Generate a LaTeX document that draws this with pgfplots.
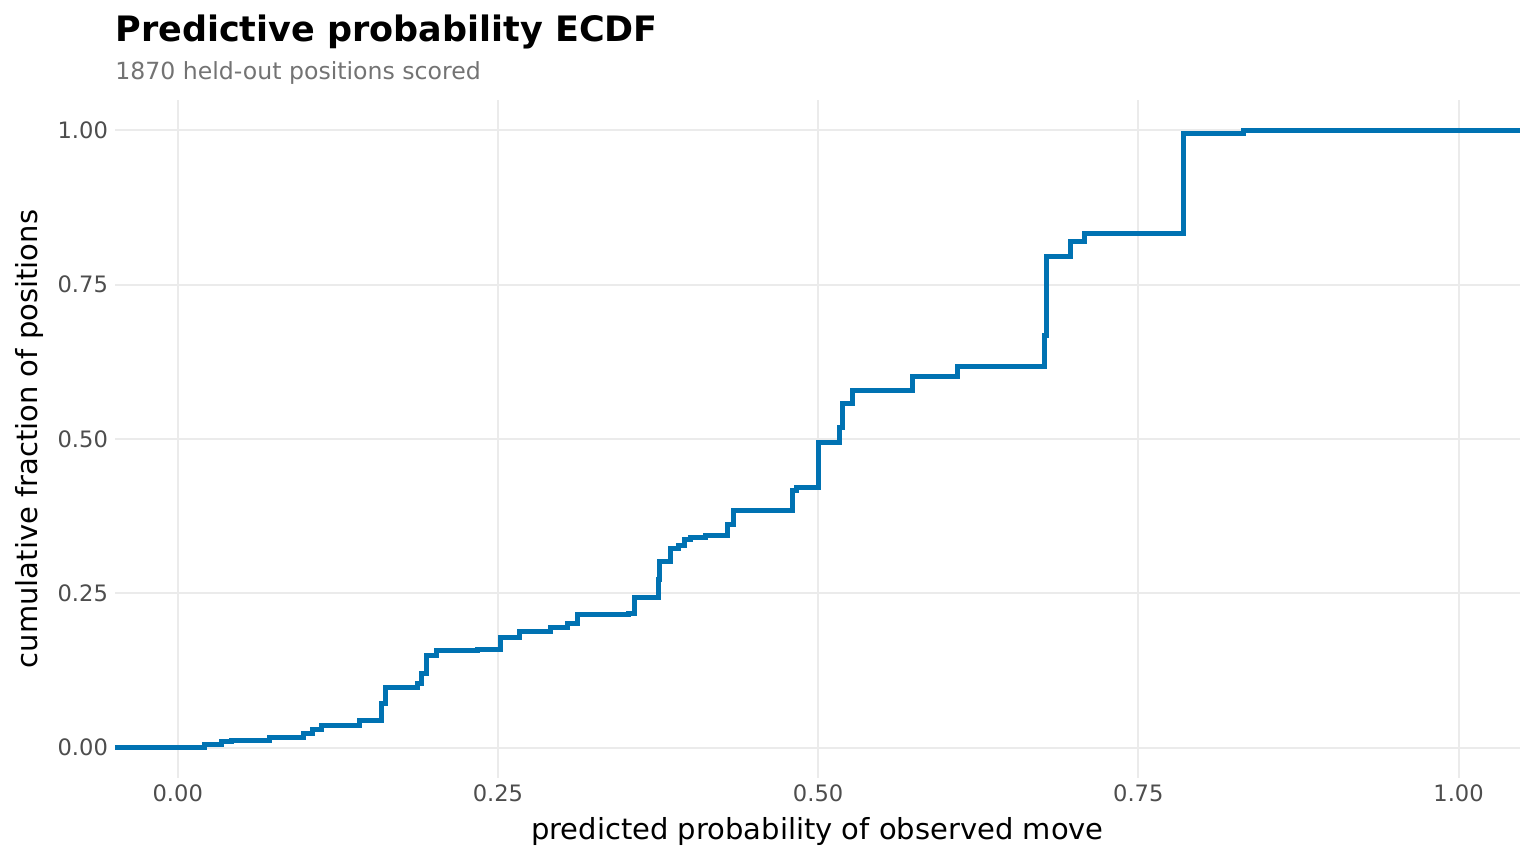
\documentclass[border=0pt]{standalone}
\usepackage{pgfplots}
\pgfplotsset{compat=1.18}
\usepackage{fontspec}
\setmainfont{DejaVu Sans}
\definecolor{line}{HTML}{0072B2}
\definecolor{gridc}{HTML}{EBEBEB}
\definecolor{tickc}{HTML}{4D4D4D}
\begin{document}
\begin{tikzpicture}
\path (0,0) rectangle (768pt,432pt);
\node[anchor=base west,inner sep=0pt] at (57.5pt,411pt) {\fontsize{17.5}{20}\selectfont\bfseries Predictive probability ECDF};
\node[anchor=base west,inner sep=0pt,text=gray!90!black] at (57.5pt,392pt) {\fontsize{11.8}{13}\selectfont 1870 held-out positions scored};
\begin{axis}[at={(57.5pt,43pt)},anchor=south west,scale only axis,
 width=702.5pt,height=339pt,
 xmin=-0.049,xmax=1.048,ymin=-0.049,ymax=1.049,
 axis line style={draw=none},tick style={draw=none},
 grid=major,major grid style={gridc,line width=1pt},
 xtick={0,0.25,0.5,0.75,1},ytick={0,0.25,0.5,0.75,1},
 xticklabel style={/pgf/number format/fixed,/pgf/number format/fixed zerofill,/pgf/number format/precision=2},
 yticklabel style={/pgf/number format/fixed,/pgf/number format/fixed zerofill,/pgf/number format/precision=2},
 /pgf/number format/assume math mode=true,
 ticklabel style={font=\fontsize{11.3}{13}\selectfont,text=tickc},
 xlabel={predicted probability of observed move},
 ylabel={cumulative fraction of positions},
 label style={font=\fontsize{14.5}{16}\selectfont},
 xlabel style={yshift=-1pt},ylabel style={yshift=0pt},
]
\addplot[const plot,line,line width=2.5pt] coordinates {
(-0.049,0) (0.021,0.005) (0.034,0.010) (0.042,0.011) (0.072,0.016) (0.098,0.023)
(0.105,0.029) (0.112,0.036) (0.142,0.044) (0.159,0.071) (0.162,0.097)
(0.1875,0.104) (0.190,0.121) (0.194,0.149) (0.202,0.157) (0.234,0.159)
(0.252,0.178) (0.267,0.188) (0.291,0.194) (0.304,0.202) (0.312,0.215)
(0.352,0.218) (0.357,0.243) (0.375,0.272) (0.376,0.301) (0.385,0.322)
(0.391,0.327) (0.396,0.337) (0.400,0.340) (0.412,0.343) (0.429,0.361)
(0.434,0.385) (0.480,0.417) (0.483,0.422) (0.500,0.495) (0.517,0.518)
(0.519,0.558) (0.527,0.578) (0.574,0.602) (0.609,0.617) (0.677,0.668)
(0.678,0.795) (0.697,0.820) (0.708,0.832) (0.785,0.994) (0.832,1.0) (1.048,1.0)
};
\end{axis}
\end{tikzpicture}
\end{document}
